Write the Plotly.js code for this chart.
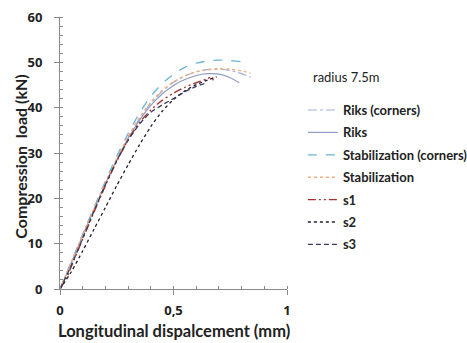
<!DOCTYPE html>
<html>
<head>
<meta charset="utf-8">
<script src="https://cdn.plot.ly/plotly-3.0.1.min.js"></script>
<style>html,body{margin:0;padding:0;background:#fff;}#chart{width:467px;height:343px;}</style>
</head>
<body>
<div id="chart"></div>
<script>
// Data (displacement in mm, load in kN)
const riksCornersX = [0, 0.05, 0.1, 0.15, 0.2, 0.25, 0.3, 0.35, 0.4, 0.45, 0.5, 0.55, 0.6, 0.65, 0.7, 0.75, 0.8, 0.84];
const riksCornersY = [0, 5.9, 11.9, 17.7, 23.3, 28.6, 33.4, 37.6, 41.0, 43.6, 45.6, 47.0, 47.9, 48.4, 48.5, 48.2, 47.5, 46.7];

const riksX = [0, 0.05, 0.1, 0.15, 0.2, 0.25, 0.3, 0.35, 0.4, 0.45, 0.5, 0.55, 0.6, 0.65, 0.7, 0.75, 0.79];
const riksY = [0, 5.8, 11.8, 17.6, 23.2, 28.5, 33.2, 37.2, 40.5, 43.0, 44.9, 46.2, 47.1, 47.5, 47.4, 46.6, 45.5];

const stabCornersX = [0, 0.05, 0.1, 0.15, 0.2, 0.25, 0.3, 0.35, 0.4, 0.45, 0.5, 0.55, 0.6, 0.65, 0.7, 0.75, 0.8, 0.83];
const stabCornersY = [0, 6.0, 12.1, 18.0, 23.8, 29.3, 34.3, 38.8, 42.5, 45.3, 47.4, 48.9, 49.8, 50.3, 50.5, 50.4, 50.1, 49.8];

const stabX = [0, 0.05, 0.1, 0.15, 0.2, 0.25, 0.3, 0.35, 0.4, 0.45, 0.5, 0.55, 0.6, 0.65, 0.7, 0.75, 0.8, 0.84];
const stabY = [0, 5.9, 11.9, 17.8, 23.4, 28.8, 33.6, 37.8, 41.2, 43.8, 45.7, 47.0, 47.9, 48.4, 48.6, 48.5, 48.1, 47.6];

const s1X = [0, 0.03, 0.05, 0.1, 0.15, 0.2, 0.25, 0.3, 0.35, 0.4, 0.45, 0.5, 0.55, 0.6, 0.65, 0.67, 0.675];
const s1Y = [0, 2.5, 5.0, 11.0, 17.0, 22.8, 28.2, 32.9, 36.7, 39.5, 41.6, 43.2, 44.5, 45.5, 46.4, 46.8, 46.0];

const s2X = [0, 0.05, 0.1, 0.15, 0.2, 0.25, 0.3, 0.35, 0.4, 0.45, 0.5, 0.55, 0.6, 0.65, 0.69];
const s2Y = [0, 3.8, 8.4, 13.2, 18.0, 22.8, 27.4, 31.8, 35.8, 39.2, 41.8, 43.7, 45.1, 46.1, 46.8];

const s3X = [0, 0.05, 0.1, 0.15, 0.2, 0.25, 0.3, 0.35, 0.4, 0.45, 0.5, 0.55, 0.6, 0.64];
const s3Y = [0, 5.2, 11.2, 17.2, 23.0, 28.3, 32.8, 36.4, 39.0, 40.6, 42.0, 43.5, 44.7, 45.4];

const seriesNames = ['Riks (corners)', 'Riks', 'Stabilization (corners)', 'Stabilization', 's1', 's2', 's3'];
const legendTitle = 'radius 7.5m';
const xTitle = 'Longitudinal dispalcement (mm)';
const yTitle = 'Compression  load (kN)';

const styles = [
  {color: '#a3acdc', dash: 'dashdot', width: 1.2},
  {color: '#8d9cc4', dash: 'solid', width: 1.2},
  {color: '#6ab6d6', dash: 'dash', width: 1.3},
  {color: '#f2ae7c', dash: 'dot', width: 1.4},
  {color: '#a3302c', dash: '8px,3px,2px,3px,2px,3px', width: 1.4},
  {color: '#1e1e30', dash: 'dot', width: 1.3},
  {color: '#3c3c58', dash: '5px,3px', width: 1.3}
];
const xs = [riksCornersX, riksX, stabCornersX, stabX, s1X, s2X, s3X];
const ys = [riksCornersY, riksY, stabCornersY, stabY, s1Y, s2Y, s3Y];

const traces = seriesNames.map((n, i) => ({
  x: xs[i], y: ys[i], name: n, type: 'scatter', mode: 'lines',
  line: Object.assign({shape: 'spline', smoothing: 0.6}, styles[i]),
  legendgroup: 'g' + i
}));

const FONT = 'Lato, "Open Sans", sans-serif';
const TICKFONT = '"Open Sans", Lato, sans-serif';
const layout = {
  width: 467, height: 343,
  margin: {l: 60, r: 180, t: 17, b: 54, autoexpand: false},
  paper_bgcolor: '#fff', plot_bgcolor: '#fff',
  separators: ',.',
  showlegend: true,
  font: {family: FONT, color: '#222'},
  xaxis: {
    range: [0, 1], dtick: 0.5, tick0: 0, showgrid: false, zeroline: false,
    showline: true, linecolor: '#8a8a8a', linewidth: 1,
    ticks: 'outside', ticklen: 5, tickcolor: '#8a8a8a', ticklabelstandoff: 4,
    minor: {dtick: 0.1, ticks: 'inside', ticklen: 3, tickcolor: '#8a8a8a', showgrid: false},
    tickfont: {family: TICKFONT, size: 13, weight: 700, color: '#222'},
    automargin: false, fixedrange: true
  },
  yaxis: {
    range: [0, 60], dtick: 10, tick0: 0, showgrid: false, zeroline: false,
    showline: true, linecolor: '#8a8a8a', linewidth: 1,
    ticks: 'outside', ticklen: 5, tickcolor: '#8a8a8a', ticklabelstandoff: 9,
    minor: {dtick: 2, ticks: 'inside', ticklen: 3, tickcolor: '#8a8a8a', showgrid: false},
    tickfont: {family: TICKFONT, size: 13, weight: 700, color: '#222'},
    automargin: false, fixedrange: true
  },
  legend: {
    x: 1.07, xanchor: 'left', y: 0.713, yanchor: 'top',
    traceorder: 'grouped', tracegroupgap: 2.5,
    font: {family: FONT, size: 13, weight: 700, color: '#222'},
    bgcolor: 'rgba(0,0,0,0)', borderwidth: 0
  },
  annotations: [
    {text: legendTitle, xref: 'paper', yref: 'paper',
     x: 1.106, y: 0.78, xanchor: 'left', yanchor: 'middle', showarrow: false,
     font: {family: FONT, size: 13, color: '#222'}},
    {text: xTitle, xref: 'paper', yref: 'paper',
     x: 0.5, y: -0.155, xanchor: 'center', yanchor: 'middle', showarrow: false,
     font: {family: FONT, size: 16.5, weight: 700, color: '#222'}},
    {text: yTitle, xref: 'paper', yref: 'paper', textangle: -90,
     x: -0.178, y: 0.485, xanchor: 'center', yanchor: 'middle', showarrow: false,
     font: {family: FONT, size: 16, weight: 700, color: '#222'}}
  ]
};

Plotly.newPlot('chart', traces, layout, {displayModeBar: false, staticPlot: true});
</script>
</body>
</html>
